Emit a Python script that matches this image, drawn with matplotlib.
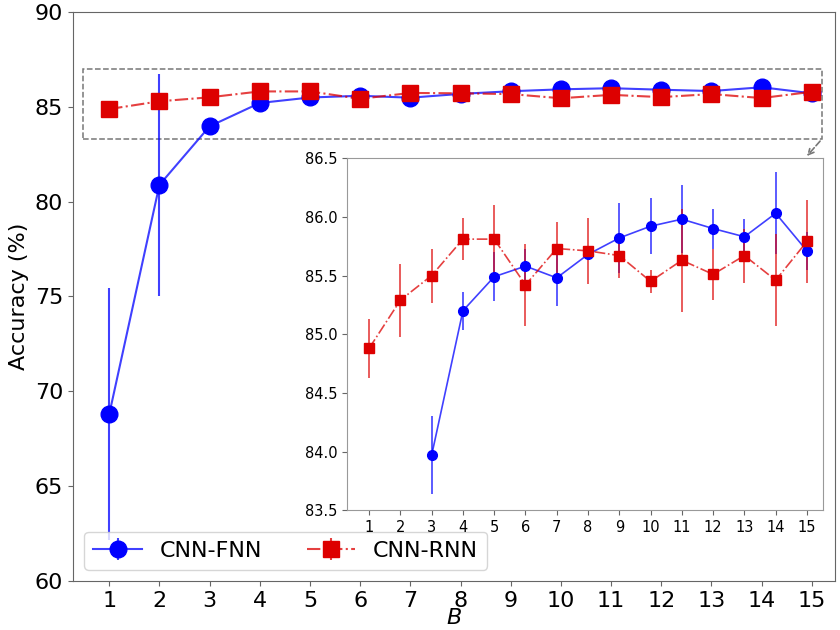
import matplotlib
matplotlib.use('Agg')
import matplotlib.pyplot as plt
from matplotlib.patches import Rectangle

B = list(range(1, 16))

fnn_mean = [68.78, 80.88, 83.97, 85.20, 85.49, 85.58, 85.48, 85.68, 85.82, 85.92,
            85.98, 85.90, 85.83, 86.03, 85.71]
fnn_err = [6.64, 5.85, 0.33, 0.16, 0.21, 0.15, 0.24, 0.05, 0.30, 0.24,
           0.29, 0.17, 0.15, 0.35, 0.16]

rnn_mean = [84.88, 85.29, 85.50, 85.81, 85.81, 85.42, 85.73, 85.71, 85.67, 85.45,
            85.63, 85.51, 85.67, 85.46, 85.79]
rnn_err = [0.25, 0.31, 0.23, 0.18, 0.29, 0.35, 0.23, 0.28, 0.19, 0.10,
           0.44, 0.22, 0.23, 0.39, 0.35]

blue = (0.0, 0.0, 1.0)
red = (0.867, 0.0, 0.0)
blue_a = blue + (0.75,)
red_a = red + (0.75,)
grey = '#666666'

fig = plt.figure(figsize=(8.4, 6.3), dpi=100)
ax = fig.add_axes([0.087, 0.078, 0.907, 0.903])

ax.errorbar(B, fnn_mean, yerr=fnn_err, color=blue_a, ecolor=blue_a, marker='o',
            markersize=12, linestyle='-', linewidth=1.5,
            markerfacecolor=blue, markeredgecolor=blue, label='CNN-FNN')
ax.errorbar(B, rnn_mean, yerr=rnn_err, color=red_a, ecolor=red_a, marker='s',
            markersize=11, linestyle='-.', linewidth=1.5,
            markerfacecolor=red, markeredgecolor=red, label='CNN-RNN')

ax.set_xlim(0.28, 15.46)
ax.set_ylim(60, 90)
ax.set_xticks(B)
ax.set_yticks([60, 65, 70, 75, 80, 85, 90])
ax.tick_params(labelsize=16, color=grey)
for s in ax.spines.values():
    s.set_color(grey)
ax.set_xlabel('$B$', fontsize=16, labelpad=-2)
ax.set_ylabel('Accuracy (%)', fontsize=16)
ax.legend(loc='lower left', ncol=2, fontsize=16, columnspacing=2.0,
          handlelength=2.2, borderaxespad=0.5)

# zoom box
ax.add_patch(Rectangle((0.48, 83.3), 15.2 - 0.48, 87.0 - 83.3, fill=False,
                       edgecolor='#777777', linestyle='--', linewidth=1.1))

# inset
ins = fig.add_axes([0.413, 0.19, 0.567, 0.559])
ins.errorbar(B[2:], fnn_mean[2:], yerr=fnn_err[2:], color=blue_a, ecolor=blue_a,
             marker='o', markersize=7, linestyle='-', linewidth=1.2,
             markerfacecolor=blue, markeredgecolor=blue)
ins.errorbar(B, rnn_mean, yerr=rnn_err, color=red_a, ecolor=red_a, marker='s',
             markersize=7, linestyle='-.', linewidth=1.2,
             markerfacecolor=red, markeredgecolor=red)
ins.set_xlim(0.29, 15.52)
ins.set_ylim(83.5, 86.5)
ins.set_xticks(B)
ins.set_yticks([83.5, 84.0, 84.5, 85.0, 85.5, 86.0, 86.5])
ins.tick_params(labelsize=10.5, color=grey)
for s in ins.spines.values():
    s.set_color('#999999')

ax.annotate('', xy=(0.962, 1.0), xycoords=ins.transAxes,
            xytext=(15.2, 83.3), textcoords='data',
            arrowprops=dict(arrowstyle='->', color='#777777', linestyle='--',
                            linewidth=1.2))

fig.savefig('out.png', dpi=100)
